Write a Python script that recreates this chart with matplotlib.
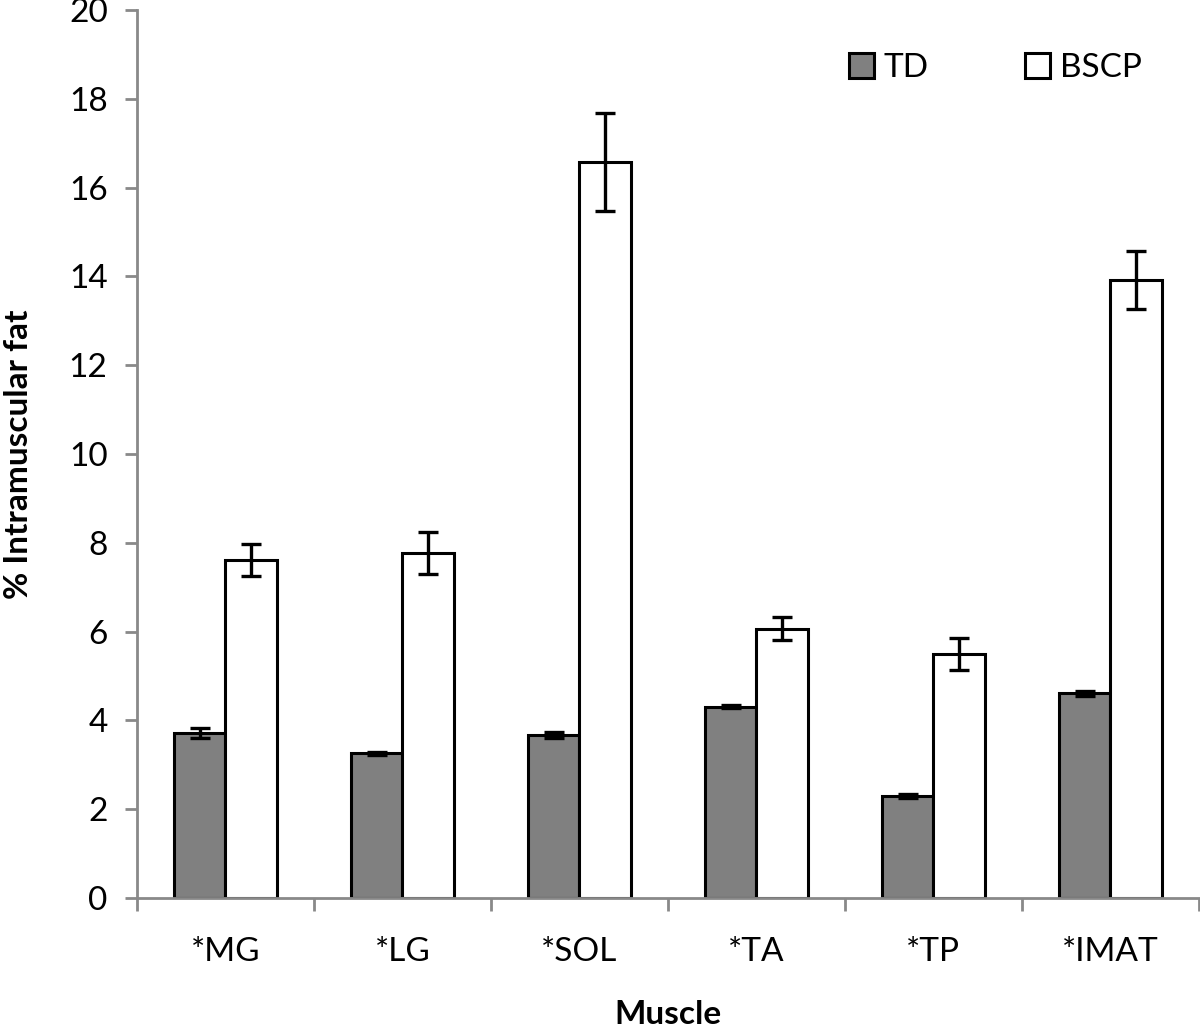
import matplotlib.pyplot as plt
import numpy as np

plt.rcParams['font.family'] = ['Lato', 'DejaVu Sans']

# values
muscles = ['*MG', '*LG', '*SOL', '*TA', '*TP', '*IMAT']
td_mean = [3.72, 3.26, 3.67, 4.31, 2.30, 4.61]
td_err = [0.11, 0.04, 0.06, 0.04, 0.05, 0.05]
bscp_mean = [7.62, 7.77, 16.57, 6.07, 5.50, 13.92]
bscp_err = [0.36, 0.47, 1.10, 0.26, 0.36, 0.65]

x = np.arange(len(muscles))
w = 0.29
axis_grey = '#898989'

fig = plt.figure(figsize=(12, 10.32), dpi=100)
ax = fig.add_axes([0.114, 0.1298, 0.885, 0.8605])

err_kw = dict(ecolor='black', elinewidth=2.4, capsize=7, capthick=2.4)
ax.bar(x - w / 2, td_mean, w, color='#808080', edgecolor='black', linewidth=2.2,
       yerr=td_err, error_kw=err_kw, label='TD', zorder=2)
ax.bar(x + w / 2, bscp_mean, w, color='white', edgecolor='black', linewidth=2.2,
       yerr=bscp_err, error_kw=err_kw, label='BSCP', zorder=2)

ax.set_xlim(-0.5, len(muscles) - 0.5)
ax.set_ylim(0, 20)
ax.set_yticks(range(0, 21, 2))
ax.set_xticks(x)
ax.set_xticklabels(muscles)
# category boundary ticks like the original
ax.set_xticks(np.arange(-0.5, len(muscles), 1), minor=True)
ax.tick_params(axis='x', which='major', length=0, pad=28, labelsize=24)
ax.tick_params(axis='x', which='minor', length=9, width=2, color=axis_grey,
               direction='out')
ax.tick_params(axis='y', length=9, width=2, color=axis_grey, direction='out',
               labelsize=24, pad=12)

for s in ['top', 'right']:
    ax.spines[s].set_visible(False)
for s in ['left', 'bottom']:
    ax.spines[s].set_color(axis_grey)
    ax.spines[s].set_linewidth(2)

ax.set_ylabel('% Intramuscular fat', fontsize=24, fontweight='bold', labelpad=26)
ax.set_xlabel('Muscle', fontsize=24, fontweight='bold', labelpad=24)

leg = ax.legend(loc='upper right', bbox_to_anchor=(0.975, 0.985), ncol=2,
                frameon=False, fontsize=24, handlelength=0.75, handleheight=0.75,
                handletextpad=0.3, columnspacing=2.9)

fig.savefig('out.png', dpi=100)
